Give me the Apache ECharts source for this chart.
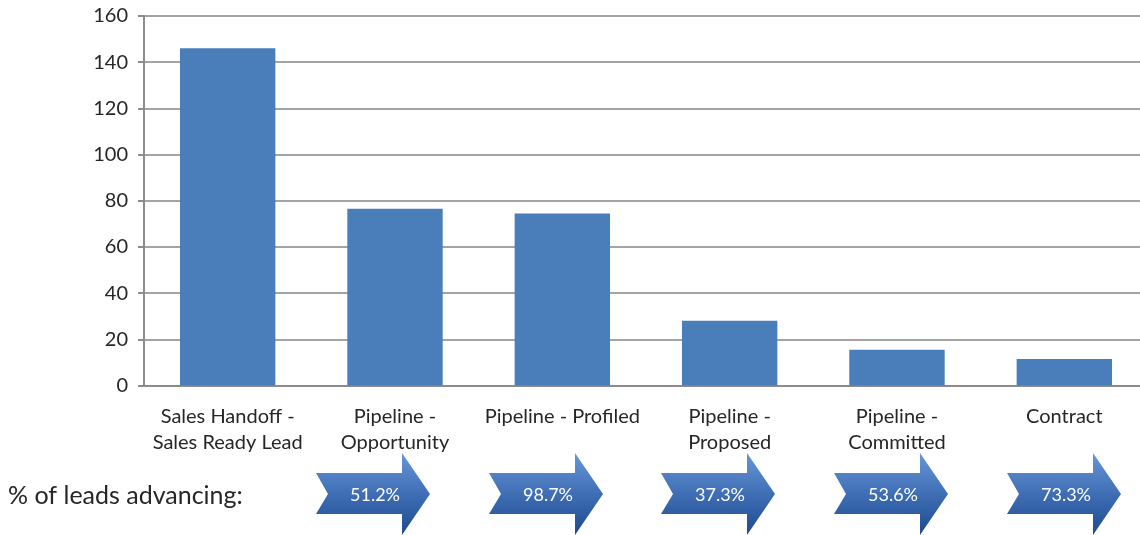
<!DOCTYPE html>
<html>
<head>
<meta charset="utf-8">
<title>Leads funnel</title>
<script src="https://cdn.jsdelivr.net/npm/echarts@6/dist/echarts.min.js"></script>
<style>
  html, body { margin: 0; padding: 0; background: #fff; overflow: hidden; }
  /* plot area runs a little past the right edge of the window, as in the original */
  #main { width: 1148px; height: 535px; }
</style>
</head>
<body>
<div id="main"></div>
<script>
  // stages of the pipeline
  var categories = [
    'Sales Handoff -\nSales Ready Lead',
    'Pipeline -\nOpportunity',
    'Pipeline - Profiled',
    'Pipeline -\nProposed',
    'Pipeline -\nCommitted',
    'Contract'
  ]
  // number of leads in each stage
  var leadCounts = [146, 76.5, 74.5, 28, 15.5, 11.5]
  // conversion between neighbouring stages
  var advanceRates = ['51.2%', '98.7%', '37.3%', '53.6%', '73.3%']
  var rowTitle = '% of leads advancing:'

  var fontName = 'Lato, "Noto Sans", sans-serif'
  var textColor = '#262626'
  var axisColor = '#8c8c8c'

  // arrow shape, relative to its left edge
  function arrowPoints (left) {
    return [
      [left, 473], [left + 86, 473], [left + 86, 453], [left + 114, 494],
      [left + 86, 535], [left + 86, 514], [left, 514], [left + 12, 494]
    ]
  }
  var arrowLefts = [316, 489, 661, 834, 1007]

  var graphics = [{
    type: 'text',
    x: 8,
    y: 496,
    style: {
      text: rowTitle,
      fill: textColor,
      font: '25px ' + fontName,
      verticalAlign: 'middle'
    }
  }]
  advanceRates.forEach(function (rate, i) {
    var l = arrowLefts[i]
    graphics.push({
      type: 'polygon',
      shape: { points: arrowPoints(l) },
      style: {
        fill: {
          type: 'linear', x: 0, y: 0, x2: 0, y2: 1,
          colorStops: [
            { offset: 0, color: '#6797d8' },
            { offset: 0.5, color: '#3f6eb5' },
            { offset: 1, color: '#1e4a8e' }
          ]
        }
      }
    })
    graphics.push({
      type: 'text',
      x: l + 59,
      y: 495,
      style: {
        text: rate,
        fill: '#ffffff',
        font: '18px ' + fontName,
        align: 'center',
        verticalAlign: 'middle'
      }
    })
  })

  var chart = echarts.init(document.getElementById('main'))
  chart.setOption({
    animation: false,
    grid: {
      left: 144,
      top: 16,
      width: 1004,
      height: 369.5
    },
    xAxis: {
      type: 'category',
      data: categories,
      axisLine: { lineStyle: { color: axisColor, width: 2 } },
      axisTick: { show: false },
      axisLabel: {
        color: textColor,
        fontFamily: fontName,
        fontSize: 20,
        lineHeight: 26,
        margin: 18,
        interval: 0
      }
    },
    yAxis: {
      type: 'value',
      min: 0,
      max: 160,
      interval: 20,
      axisLine: { show: true, lineStyle: { color: axisColor, width: 2 } },
      axisTick: { show: true, length: 6, lineStyle: { color: axisColor, width: 2 } },
      axisLabel: {
        color: textColor,
        fontFamily: fontName,
        fontSize: 20,
        margin: 16
      },
      splitLine: { lineStyle: { color: '#a3a3a3', width: 2 } }
    },
    series: [{
      type: 'bar',
      data: leadCounts,
      barCategoryGap: '43%',
      itemStyle: { color: '#4a7ebb' }
    }],
    graphic: graphics
  })
</script>
</body>
</html>
